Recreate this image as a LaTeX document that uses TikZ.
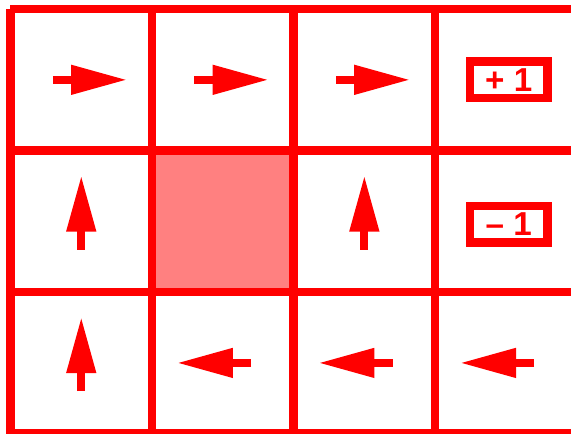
\documentclass[tikz,border=0pt]{standalone}
\usepackage{fontspec}
\setmainfont{Liberation Sans}
\usetikzlibrary{arrows.meta}

\tikzset{
  move/.style={draw=red,line width=0.17cm,-{Triangle[length=1.19cm,width=0.59cm]}},
  valbox/.style={draw=red,line width=0.18cm,minimum width=1.65cm,minimum height=0.78cm,
    inner sep=0pt,text=red,font=\bfseries\fontsize{20}{22}\selectfont}
}

\begin{document}
\begin{tikzpicture}[x=3cm,y=3cm]
  \useasboundingbox (-0.074,-0.002) rectangle (3.960,3.064);
  % blocked cell
  \fill[red!50] (1,1) rectangle (2,2);
  \draw[red,line width=0.18cm,step=3cm] (0,0) grid (3.99,3);
  % policy arrows
  \foreach \c in {0,1,2}
    \draw[move] (\c+0.3,2.5) -- (\c+0.825,2.5);
  \foreach \c/\r in {0/1,2/1,0/0}
    \draw[move] (\c+0.5,\r+0.3) -- (\c+0.5,\r+0.825);
  \foreach \c in {1,2,3}
    \draw[move] (\c+0.7,0.5) -- (\c+0.175,0.5);
  % terminal rewards
  \node[valbox] (plus) at (3.52,2.5) {+ 1};
  \node[valbox] (minus) at (3.52,1.48) {– 1};
\end{tikzpicture}
\end{document}
